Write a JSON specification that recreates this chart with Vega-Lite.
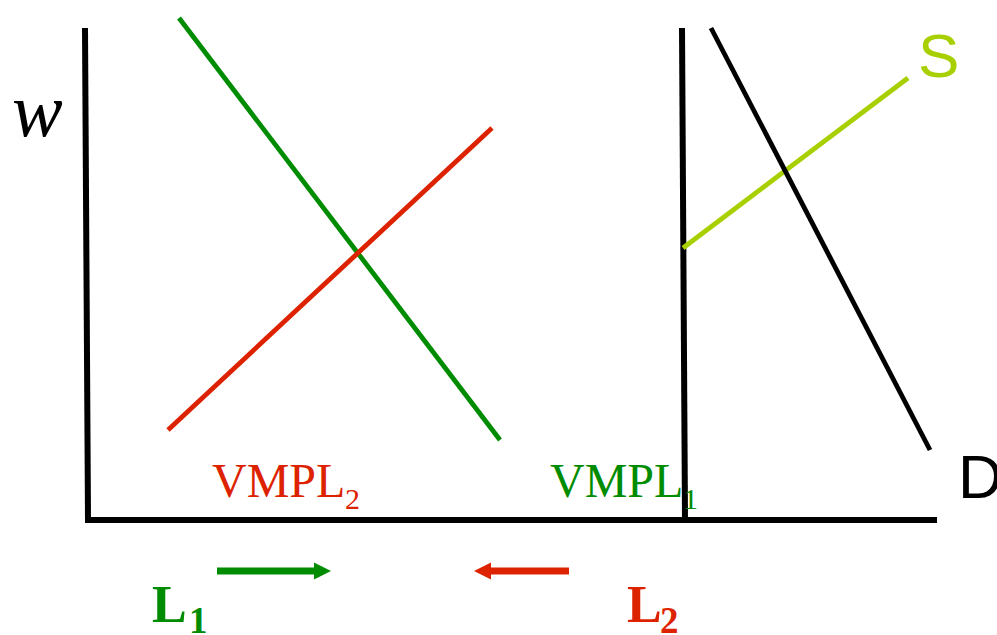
{
  "$schema": "https://vega.github.io/schema/vega-lite/v6.json",
  "width": 997,
  "height": 635,
  "autosize": {"type": "none"},
  "padding": 0,
  "background": "white",
  "config": {"view": {"stroke": null}},
  "datasets": {
    "lines": [
      {"series": "axis", "seg": "vertical axis left", "x": 85, "y": 607},
      {"series": "axis", "seg": "vertical axis left", "x": 88, "y": 115},
      {"series": "axis", "seg": "horizontal axis", "x": 85, "y": 115},
      {"series": "axis", "seg": "horizontal axis", "x": 937, "y": 115},
      {"series": "axis", "seg": "vertical axis right", "x": 682, "y": 607},
      {"series": "axis", "seg": "vertical axis right", "x": 685, "y": 115},
      {"series": "VMPL1", "seg": "VMPL1", "x": 179, "y": 617},
      {"series": "VMPL1", "seg": "VMPL1", "x": 500, "y": 195},
      {"series": "VMPL2", "seg": "VMPL2", "x": 168, "y": 205},
      {"series": "VMPL2", "seg": "VMPL2", "x": 492, "y": 507},
      {"series": "S", "seg": "S", "x": 683, "y": 387},
      {"series": "S", "seg": "S", "x": 908, "y": 557},
      {"series": "D", "seg": "D", "x": 711, "y": 607},
      {"series": "D", "seg": "D", "x": 930, "y": 185}
    ],
    "arrows": [
      {"series": "VMPL1", "label": "L1", "direction": "right", "x": 217, "x2": 323, "tip": 331, "y": 64},
      {"series": "VMPL2", "label": "L2", "direction": "left", "x": 569, "x2": 482, "tip": 474, "y": 64}
    ],
    "texts": [
      {"role": "title", "series": "axis", "text": "w", "x": 12, "y": 499},
      {"role": "curve", "series": "S", "text": "S", "x": 918, "y": 558},
      {"role": "curve", "series": "D", "text": "D", "x": 958, "y": 137},
      {"role": "vmpl", "series": "VMPL2", "text": "VMPL", "x": 212, "y": 138},
      {"role": "vmpl", "series": "VMPL1", "text": "VMPL", "x": 550, "y": 138},
      {"role": "vmplsub", "series": "VMPL2", "text": "2", "x": 345, "y": 126},
      {"role": "vmplsub", "series": "VMPL1", "text": "1", "x": 683, "y": 126},
      {"role": "L", "series": "VMPL1", "text": "L", "x": 152, "y": 13},
      {"role": "L", "series": "VMPL2", "text": "L", "x": 627, "y": 13},
      {"role": "Lsub", "series": "VMPL1", "text": "1", "x": 189, "y": 2},
      {"role": "Lsub", "series": "VMPL2", "text": "2", "x": 660, "y": 2}
    ]
  },
  "encoding": {
    "x": {"type": "quantitative", "scale": {"domain": [0, 997], "nice": false, "zero": false}, "axis": null},
    "y": {"type": "quantitative", "scale": {"domain": [0, 635], "nice": false, "zero": false}, "axis": null},
    "color": {
      "field": "series", "type": "nominal",
      "scale": {"domain": ["axis", "D", "S", "VMPL1", "VMPL2"], "range": ["#000000", "#000000", "#a8d000", "#008c00", "#dd2200"]},
      "legend": null
    }
  },
  "layer": [
    {
      "data": {"name": "lines"},
      "transform": [{"filter": "datum.series === 'axis'"}],
      "mark": {"type": "line", "strokeWidth": 6, "strokeCap": "butt"},
      "encoding": {
        "x": {"field": "x", "type": "quantitative"},
        "y": {"field": "y", "type": "quantitative"},
        "detail": {"field": "seg"}
      }
    },
    {
      "data": {"name": "lines"},
      "transform": [{"filter": "datum.series !== 'axis'"}],
      "mark": {"type": "line", "strokeWidth": 4.8, "strokeCap": "butt"},
      "encoding": {
        "x": {"field": "x", "type": "quantitative"},
        "y": {"field": "y", "type": "quantitative"},
        "detail": {"field": "seg"}
      }
    },
    {
      "data": {"name": "arrows"},
      "mark": {"type": "rule", "strokeWidth": 7, "strokeCap": "butt"},
      "encoding": {
        "x": {"field": "x", "type": "quantitative"},
        "x2": {"field": "x2"},
        "y": {"field": "y", "type": "quantitative"}
      }
    },
    {
      "data": {"name": "arrows"},
      "mark": {"type": "point", "filled": true, "opacity": 1, "size": 289, "strokeWidth": 0},
      "encoding": {
        "x": {"field": "tip", "type": "quantitative"},
        "y": {"field": "y", "type": "quantitative"},
        "shape": {
          "field": "direction", "type": "nominal",
          "scale": {"domain": ["right", "left"], "range": ["M0,0L-2,-1L-2,1Z", "M0,0L2,-1L2,1Z"]},
          "legend": null
        }
      }
    },
    {
      "data": {"name": "texts"},
      "transform": [{"filter": "datum.role === 'title'"}],
      "mark": {"type": "text", "align": "left", "baseline": "alphabetic", "font": "Liberation Serif", "fontStyle": "italic", "fontSize": 76},
      "encoding": {
        "x": {"field": "x", "type": "quantitative"},
        "y": {"field": "y", "type": "quantitative"},
        "text": {"field": "text"}
      }
    },
    {
      "data": {"name": "texts"},
      "transform": [{"filter": "datum.role === 'curve'"}],
      "mark": {"type": "text", "align": "left", "baseline": "alphabetic", "font": "Liberation Sans", "fontSize": 62},
      "encoding": {
        "x": {"field": "x", "type": "quantitative"},
        "y": {"field": "y", "type": "quantitative"},
        "text": {"field": "text"}
      }
    },
    {
      "data": {"name": "texts"},
      "transform": [{"filter": "datum.role === 'vmpl'"}],
      "mark": {"type": "text", "align": "left", "baseline": "alphabetic", "font": "Liberation Serif", "fontSize": 48},
      "encoding": {
        "x": {"field": "x", "type": "quantitative"},
        "y": {"field": "y", "type": "quantitative"},
        "text": {"field": "text"}
      }
    },
    {
      "data": {"name": "texts"},
      "transform": [{"filter": "datum.role === 'vmplsub'"}],
      "mark": {"type": "text", "align": "left", "baseline": "alphabetic", "font": "Liberation Serif", "fontSize": 30},
      "encoding": {
        "x": {"field": "x", "type": "quantitative"},
        "y": {"field": "y", "type": "quantitative"},
        "text": {"field": "text"}
      }
    },
    {
      "data": {"name": "texts"},
      "transform": [{"filter": "datum.role === 'L'"}],
      "mark": {"type": "text", "align": "left", "baseline": "alphabetic", "font": "Liberation Serif", "fontWeight": "bold", "fontSize": 52},
      "encoding": {
        "x": {"field": "x", "type": "quantitative"},
        "y": {"field": "y", "type": "quantitative"},
        "text": {"field": "text"}
      }
    },
    {
      "data": {"name": "texts"},
      "transform": [{"filter": "datum.role === 'Lsub'"}],
      "mark": {"type": "text", "align": "left", "baseline": "alphabetic", "font": "Liberation Serif", "fontWeight": "bold", "fontSize": 37},
      "encoding": {
        "x": {"field": "x", "type": "quantitative"},
        "y": {"field": "y", "type": "quantitative"},
        "text": {"field": "text"}
      }
    }
  ]
}
